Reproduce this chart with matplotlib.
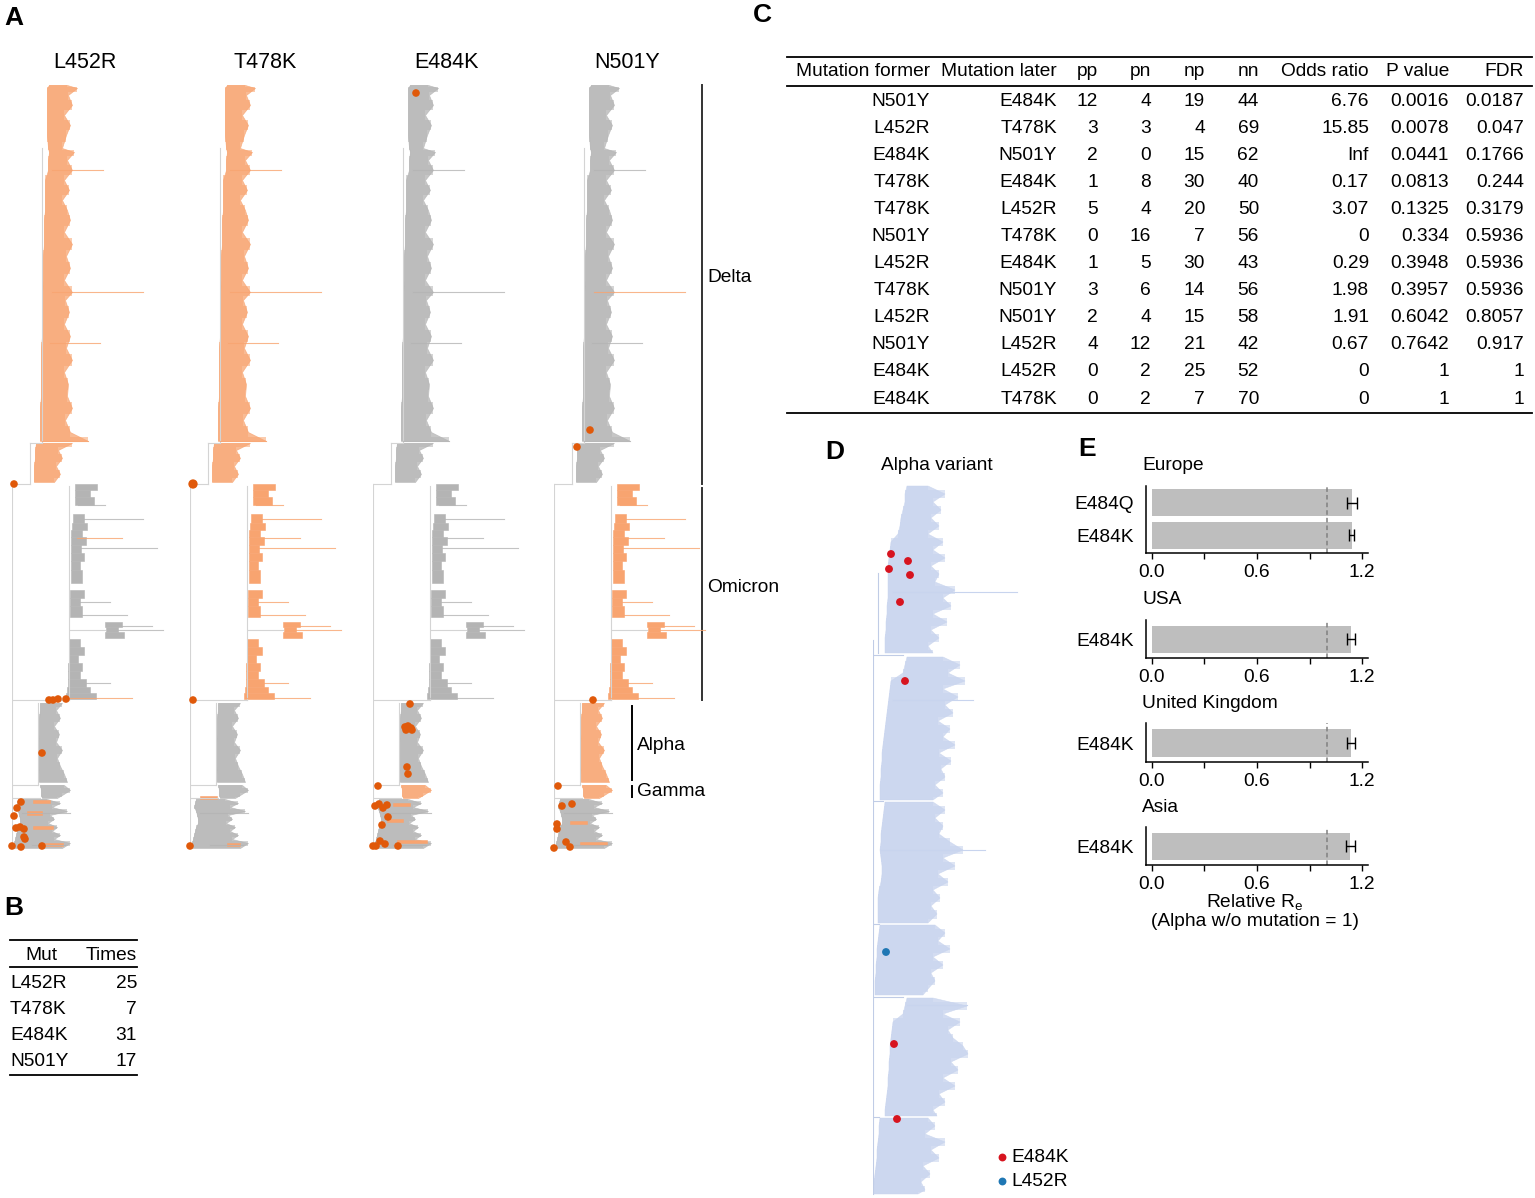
import numpy as np
import matplotlib.pyplot as plt

plt.rcParams['font.family'] = ['Liberation Sans', 'DejaVu Sans']
plt.rcParams['font.size'] = 13.8

W, H = 1535, 1198
FS = 13.8
ORANGE = '#F8A470'
GREY = '#B4B4B4'
DOT = '#E0590A'
EDGE = '#D4D4D4'
BLUE_TREE = '#C8D4EE'
nan = np.nan

# ---------------- A: one tree, coloured by each mutation ----------------
mutations = ['L452R', 'T478K', 'E484K', 'N501Y']
tree_x0 = [12, 190, 373, 554]

# clade outlines: y = tip rank, l/r = divergence of inner/outer tips
delta_y = [85, 88, 95, 105, 115, 125, 135, 148, 152, 160, 170, 180, 190, 200, 210, 220, 232, 244, 256, 268,
           280, 292, 300, 312, 324, 336, 348, 360, 372, 384, 396, 408, 420, 432, 441]
delta_l = [37, 35, 35, 35, 35, 35, 35, 36, 37, 36, 36, 33, 33, 33, 33, 32, 32, 32, 31, 31,
           31, 30, 30, 30, 30, 30, 29, 29, 29, 29, 29, 28, 28, 28, 28]
delta_r = [55, 65, 56, 60, 52, 58, 54, 50, 62, 55, 60, 52, 57, 50, 55, 58, 52, 60, 54, 58,
           52, 60, 53, 57, 52, 58, 54, 60, 52, 56, 55, 60, 53, 58, 76]
deltab_y = [443, 450, 458, 466, 474, 482]
deltab_l = [24, 23, 23, 22, 22, 22]
deltab_r = [60, 46, 50, 44, 48, 42]

om_y0 = [484, 490, 497, 514, 523, 530, 537, 545, 553, 561, 570, 590, 598, 606, 639, 647, 655, 663, 671, 679, 687, 693]
om_y1 = [490, 497, 505, 523, 530, 537, 545, 553, 561, 570, 583, 598, 606, 617, 647, 655, 663, 671, 679, 687, 693, 699]
om_l = [63, 63, 63, 61, 60, 59, 59, 59, 59, 59, 59, 58, 58, 58, 57, 57, 57, 56, 56, 56, 55, 54]
om_r = [85, 78, 82, 72, 75, 70, 74, 69, 72, 68, 70, 72, 68, 70, 68, 72, 66, 70, 68, 74, 78, 84]
omsub_y0 = [622, 627, 632]
omsub_y1 = [627, 632, 638]
omsub_l = [93, 94, 93]
omsub_r = [110, 106, 112]

alpha_y = [703, 710, 718, 726, 734, 742, 750, 758, 766, 774, 782]
alpha_l = [28, 28, 27, 27, 27, 26, 26, 26, 26, 27, 27]
alpha_r = [50, 44, 48, 42, 47, 44, 50, 45, 48, 52, 55]
gamma_y = [785, 790, 795, 798]
gamma_l = [28, 29, 29, 30]
gamma_r = [52, 58, 50, 45]
oth_y = [799, 803, 807, 811, 815, 819, 823, 827, 831, 835, 839, 843, 848]
oth_l = [6, 5, 4, 6, 7, 8, 8, 6, 5, 4, 3, 2, 2]
oth_r = [35, 48, 40, 55, 38, 42, 36, 45, 40, 48, 42, 58, 50]

# clade colour per mutation column ('o' carries mutation, 'g' not)
delta_col = ['o', 'o', 'g', 'g']
omicron_col = ['g', 'o', 'g', 'o']
alpha_col = ['g', 'g', 'g', 'o']
gamma_col = ['g', 'g', 'o', 'o']

# long single branches
lb_y = [170, 292, 343, 441, 505, 519, 538, 548, 602, 615, 683, 698, 626, 630, 845, 813]
lb_x0 = [40, 40, 38, 30, 66, 65, 65, 63, 62, 62, 60, 56, 100, 100, 20, 10]
lb_x1 = [91, 131, 88, 76, 93, 131, 110, 145, 98, 115, 98, 120, 140, 151, 53, 58]
lb_grp = ['delta'] * 4 + ['omicron'] * 10 + ['other'] * 2
lb_orange = [[6, 11], [], [], [1]]

# small mutated groups among the basal lineages
patch_col = [0, 0, 0, 0, 1, 1, 2, 2, 2, 3, 3]
patch_y0 = [800, 811, 826, 843, 796, 843, 803, 819, 840, 821, 842]
patch_y1 = [803, 815, 829, 846, 799, 846, 806, 822, 843, 824, 845]
patch_l = [21, 15, 21, 28, 10, 37, 20, 14, 24, 16, 26]
patch_r = [38, 30, 41, 51, 27, 50, 37, 30, 54, 33, 53]

# internal branches
sp_x0 = [0, 0, 18, 18, 30, 0, 57, 58, 0, 26, 0]
sp_y0 = [484, 484, 443, 443, 148, 700, 486, 630, 785, 703, 798]
sp_x1 = [0, 18, 18, 30, 30, 57, 57, 93, 26, 26, 28]
sp_y1 = [848, 484, 484, 443, 443, 700, 700, 630, 785, 785, 798]

# mutation events (orange dots) per column
dots_x = [
    [2, 37, 41, 46, 54, 30, 9, 5, 2, 4, 8, 12, 12, 13, 0, 9, 30],
    [3, 3, 0],
    [43, 37, 32, 35, 38, 33, 39, 34, 35, 5, 2, 6, 10, 14, 15, 9, 7, 12, 3, 25, 0],
    [36, 23, 39, 4, 8, 18, 3, 3, 12, 16, 0],
]
dots_y = [
    [484, 700, 700, 699, 699, 753, 802, 808, 816, 828, 827, 829, 837, 839, 846, 847, 846],
    [484, 700, 846],
    [93, 704, 727, 726, 728, 730, 730, 767, 774, 786, 806, 804, 808, 805, 817, 825, 841, 844, 846, 846, 846],
    [430, 447, 700, 786, 806, 804, 824, 829, 842, 847, 848],
]

# ---------------- B ----------------
B_mut = ['L452R', 'T478K', 'E484K', 'N501Y']
B_times = [25, 7, 31, 17]

# ---------------- C ----------------
C_header = ['Mutation former', 'Mutation later', 'pp', 'pn', 'np', 'nn', 'Odds ratio', 'P value', 'FDR']
C_former = ['N501Y', 'L452R', 'E484K', 'T478K', 'T478K', 'N501Y', 'L452R', 'T478K', 'L452R', 'N501Y', 'E484K', 'E484K']
C_later = ['E484K', 'T478K', 'N501Y', 'E484K', 'L452R', 'T478K', 'E484K', 'N501Y', 'N501Y', 'L452R', 'L452R', 'T478K']
C_pp = [12, 3, 2, 1, 5, 0, 1, 3, 2, 4, 0, 0]
C_pn = [4, 3, 0, 8, 4, 16, 5, 6, 4, 12, 2, 2]
C_np = [19, 4, 15, 30, 20, 7, 30, 14, 15, 21, 25, 7]
C_nn = [44, 69, 62, 40, 50, 56, 43, 56, 58, 42, 52, 70]
C_or = ['6.76', '15.85', 'Inf', '0.17', '3.07', '0', '0.29', '1.98', '1.91', '0.67', '0', '0']
C_p = ['0.0016', '0.0078', '0.0441', '0.0813', '0.1325', '0.334', '0.3948', '0.3957', '0.6042', '0.7642', '1', '1']
C_fdr = ['0.0187', '0.047', '0.1766', '0.244', '0.3179', '0.5936', '0.5936', '0.5936', '0.8057', '0.917', '1', '1']

# ---------------- D: Alpha tree ----------------
D_y = [486, 494, 502, 510, 518, 526, 534, 542, 550, 558, 566, 574, 582, 590, 598, 606, 614, 622, 630, 638, 646, 653, nan,
       657, 665, 673, 681, 689, 697, 705, 713, 721, 729, 737, 745, 753, 761, 769, 777, 785, 793, 800, nan,
       802, 810, 818, 826, 834, 842, 850, 858, 866, 874, 882, 890, 898, 906, 914, 923, nan,
       925, 933, 941, 949, 957, 965, 973, 981, 989, 995, nan,
       998, 1006, 1014, 1022, 1030, 1038, 1046, 1054, 1062, 1070, 1078, 1086, 1094, 1102, 1110, 1116, nan,
       1118, 1126, 1134, 1142, 1150, 1158, 1166, 1174, 1182, 1190, 1194]
D_l = [34, 32, 32, 30, 28, 27, 25, 18, 17, 16, 15, 15, 15, 15, 15, 14, 14, 13, 13, 12, 12, 12, nan,
       34, 32, 30, 18, 17, 16, 15, 14, 13, 12, 11, 10, 9, 9, 8, 8, 7, 7, 7, nan,
       12, 11, 10, 9, 8, 8, 7, 8, 9, 9, 8, 6, 5, 5, 5, 5, nan,
       7, 6, 5, 4, 4, 3, 3, 2, 2, 2, nan,
       34, 32, 30, 20, 19, 18, 17, 17, 16, 16, 15, 15, 14, 13, 12, 12, nan,
       7, 6, 6, 5, 4, 4, 3, 2, 1, 0, 0]
D_r = [55, 72, 60, 68, 58, 66, 55, 70, 60, 72, 58, 66, 62, 82, 70, 78, 60, 74, 58, 66, 55, 60, nan,
       70, 87, 75, 92, 70, 85, 72, 80, 65, 77, 70, 82, 66, 78, 68, 72, 62, 70, 60, nan,
       60, 72, 62, 70, 66, 77, 90, 70, 82, 65, 75, 60, 67, 58, 64, 55, nan,
       62, 72, 65, 77, 60, 70, 58, 62, 55, 50, nan,
       60, 94, 70, 87, 75, 80, 90, 95, 78, 85, 70, 82, 66, 72, 60, 64, nan,
       55, 62, 52, 72, 58, 66, 50, 57, 48, 52, 45]
D_lb_y = [592, 1005, 700, 850]
D_lb_x0 = [20, 34, 20, 8]
D_lb_x1 = [144, 94, 100, 112]
D_sp_x0 = [0, 0, 0, 0, 0, 0, 5]
D_sp_y0 = [640, 655, 801, 924, 997, 1117, 573]
D_sp_x1 = [0, 30, 10, 6, 30, 6, 5]
D_sp_y1 = [1194, 655, 801, 924, 997, 1117, 653]
D_mut = ['E484K'] * 8 + ['L452R']
D_dx = [18, 35, 16, 37, 27, 32, 21, 24, 13]
D_dy = [554, 561, 569, 575, 602, 681, 1044, 1119, 952]
D_mut_color = {'E484K': '#D7141F', 'L452R': '#1F77B4'}

# ---------------- E: relative Re ----------------
regions = ['Europe', 'USA', 'United Kingdom', 'Asia']
E_muts = [['E484Q', 'E484K'], ['E484K'], ['E484K'], ['E484K']]
E_vals = [[1.141, 1.141], [1.137], [1.137], [1.133]]
E_lo = [[1.114, 1.128], [1.114], [1.114], [1.109]]
E_hi = [[1.171, 1.152], [1.162], [1.162], [1.162]]


fig = plt.figure(figsize=(W / 100, H / 100), dpi=100)
ov = fig.add_axes([0, 0, 1, 1])
ov.set_xlim(0, W)
ov.set_ylim(H, 0)
ov.axis('off')


def px_axes(left, top, right, bottom):
    return fig.add_axes([left / W, 1 - bottom / H, (right - left) / W, (bottom - top) / H])


def tree_axes(left, top, width, bottom):
    ax = px_axes(left, top, left + width, bottom)
    ax.set_xlim(0, width)
    ax.set_ylim(bottom, top)
    ax.axis('off')
    return ax


def cc(code):
    return ORANGE if code == 'o' else GREY


def clade(ax, y, l, r, color):
    # core of the clade plus a ragged fringe of tips
    ax.fill_betweenx(y, l, r, color=color, lw=0, step='mid', alpha=0.55)
    ax.fill_betweenx(y, l, r, color=color, lw=0.5, alpha=0.75)


# ---- A ----
for i, mut in enumerate(mutations):
    ax = tree_axes(tree_x0[i], 80, 175, 856)
    for k in range(len(sp_x0)):
        ax.plot([sp_x0[k], sp_x1[k]], [sp_y0[k], sp_y1[k]], color=EDGE, lw=0.8)
    clade(ax, delta_y, delta_l, delta_r, cc(delta_col[i]))
    clade(ax, deltab_y, deltab_l, deltab_r, cc(delta_col[i]))
    for a, b, l, r in zip(om_y0, om_y1, om_l, om_r):
        ax.fill_betweenx([a, b], [l, l], [r, r], color=cc(omicron_col[i]), lw=0.4)
    for a, b, l, r in zip(omsub_y0, omsub_y1, omsub_l, omsub_r):
        ax.fill_betweenx([a, b], [l, l], [r, r], color=cc(omicron_col[i]), lw=0.4)
    clade(ax, alpha_y, alpha_l, alpha_r, cc(alpha_col[i]))
    clade(ax, oth_y, oth_l, oth_r, GREY)
    clade(ax, gamma_y, gamma_l, gamma_r, cc(gamma_col[i]))
    for k in range(len(patch_col)):
        if patch_col[k] == i:
            ax.fill_betweenx([patch_y0[k], patch_y1[k]], [patch_l[k]] * 2, [patch_r[k]] * 2,
                             color=ORANGE, lw=0.4)
    for k in range(len(lb_y)):
        grp = {'delta': delta_col, 'omicron': omicron_col, 'other': ['g'] * 4}[lb_grp[k]]
        c = ORANGE if k in lb_orange[i] else cc(grp[i])
        ax.plot([lb_x0[k], lb_x1[k]], [lb_y[k], lb_y[k]], color=c, lw=0.8, alpha=0.8)
    sizes = [45 if (i == 1 and y == 484) else 30 for y in dots_y[i]]
    ax.scatter(dots_x[i], dots_y[i], s=sizes, color=DOT, lw=0, zorder=5, clip_on=False)
    ov.text(tree_x0[i] + [73, 75, 73, 73][i], 63, mut, ha='center', va='center', fontsize=15.5)

# clade brackets
ov.plot([702, 702], [85, 484], color='#333333', lw=1.4)
ov.plot([702, 702], [488, 700], color='#333333', lw=1.4)
ov.plot([632, 632], [706, 780], color='black', lw=1.4)
ov.plot([632, 632], [786, 797], color='black', lw=1.4)
ov.text(707, 277, 'Delta', va='center', fontsize=FS)
ov.text(707, 587, 'Omicron', va='center', fontsize=FS)
ov.text(637, 746, 'Alpha', va='center', fontsize=FS)
ov.text(637, 791, 'Gamma', va='center', fontsize=FS)

# ---- B ----
ov.plot([10, 137], [940, 940], color='black', lw=1.3)
ov.plot([10, 137], [967, 967], color='black', lw=1.3)
ov.plot([10, 137], [1075, 1075], color='black', lw=1.3)
ov.text(41, 955, 'Mut', ha='center', va='center', fontsize=FS)
ov.text(137, 955, 'Times', ha='right', va='center', fontsize=FS)
for k, (m, t) in enumerate(zip(B_mut, B_times)):
    yy = 983 + k * 26.3
    ov.text(10, yy, m, ha='left', va='center', fontsize=FS)
    ov.text(137, yy, str(t), ha='right', va='center', fontsize=FS)

# ---- C ----
col_right = [930, 1057, 1098, 1151, 1205, 1259, 1369, 1449, 1524]
ov.plot([787, 1532], [57, 57], color='black', lw=1.3)
ov.plot([787, 1532], [86, 86], color='black', lw=1.3)
ov.plot([787, 1532], [413, 413], color='black', lw=1.3)
for j, h in enumerate(C_header):
    ov.text(col_right[j], 71, h, ha='right', va='center', fontsize=FS)
for k in range(len(C_former)):
    row = [C_former[k], C_later[k], C_pp[k], C_pn[k], C_np[k], C_nn[k], C_or[k], C_p[k], C_fdr[k]]
    yy = 101 + k * 27.1
    for j, v in enumerate(row):
        ov.text(col_right[j], yy, str(v), ha='right', va='center', fontsize=FS)

# ---- D ----
axd = tree_axes(873, 478, 170, 1198)
for k in range(len(D_sp_x0)):
    axd.plot([D_sp_x0[k], D_sp_x1[k]], [D_sp_y0[k], D_sp_y1[k]], color='#C0CCE6', lw=0.8)
axd.fill_betweenx(D_y, D_l, D_r, color=BLUE_TREE, lw=0, step='mid', alpha=0.6)
axd.fill_betweenx(D_y, D_l, D_r, color=BLUE_TREE, lw=0.4, alpha=0.8)
for k in range(len(D_lb_y)):
    axd.plot([D_lb_x0[k], D_lb_x1[k]], [D_lb_y[k]] * 2, color=BLUE_TREE, lw=0.8)
axd.scatter(D_dx, D_dy, s=32, c=[D_mut_color[m] for m in D_mut], lw=0, zorder=5, clip_on=False)
ov.text(937, 466, 'Alpha variant', ha='center', va='center', fontsize=FS)
for k, m in enumerate(['E484K', 'L452R']):
    ov.scatter([1002], [1157 + 24 * k], s=32, color=D_mut_color[m], lw=0)
    ov.text(1011, 1157 + 24 * k, m, va='center', fontsize=FS)

# ---- E ----
E_boxes = [(1146, 486, 1368, 553), (1146, 620, 1368, 658), (1146, 723, 1368, 762), (1146, 827, 1368, 865)]
for k, reg in enumerate(regions):
    l, t, r, b = E_boxes[k]
    ax = px_axes(l, t, r, b)
    n = len(E_muts[k])
    pos = np.arange(n)
    vals = np.array(E_vals[k])
    ax.barh(pos, vals, height=0.83, color='#BEBEBE', zorder=1)
    ax.errorbar(vals, pos, xerr=[vals - np.array(E_lo[k]), np.array(E_hi[k]) - vals], fmt='none',
                ecolor='black', elinewidth=1, capsize=4, capthick=1, zorder=3)
    ax.axvline(1, color='#808080', ls=(0, (3, 2)), lw=1.1, zorder=2)
    ax.set_xlim(-0.034, 1.234)
    if n == 2:
        ax.set_ylim(1.55, -0.51)
    else:
        ax.set_ylim(0.57, -0.6)
    ax.set_yticks(pos, E_muts[k])
    ax.set_xticks([0, 0.6, 1.2], ['0.0', '0.6', '1.2'])
    ax.set_xticks([0.3, 0.9], minor=True)
    ax.tick_params(axis='y', length=0, pad=9, labelsize=FS)
    ax.tick_params(axis='x', which='both', length=4, width=1, pad=4, labelsize=FS)
    ax.spines[['top', 'right']].set_visible(False)
    ax.spines[['left', 'bottom']].set_linewidth(1.1)
    ax.patch.set_alpha(0)
    ov.text(l - 4, t - 20, reg, ha='left', va='center', fontsize=FS)
ov.text(1255, 903, r'Relative R$_\mathregular{e}$', ha='center', va='center', fontsize=FS)
ov.text(1255, 922, '(Alpha w/o mutation = 1)', ha='center', va='center', fontsize=FS)

# panel letters
for lab, x, y in [('A', 14, 18), ('B', 14, 908), ('C', 762, 15), ('D', 835, 452), ('E', 1087, 449)]:
    ov.text(x, y, lab, ha='center', va='center', fontsize=19, fontweight='bold')

fig.savefig('out.png', dpi=100)
